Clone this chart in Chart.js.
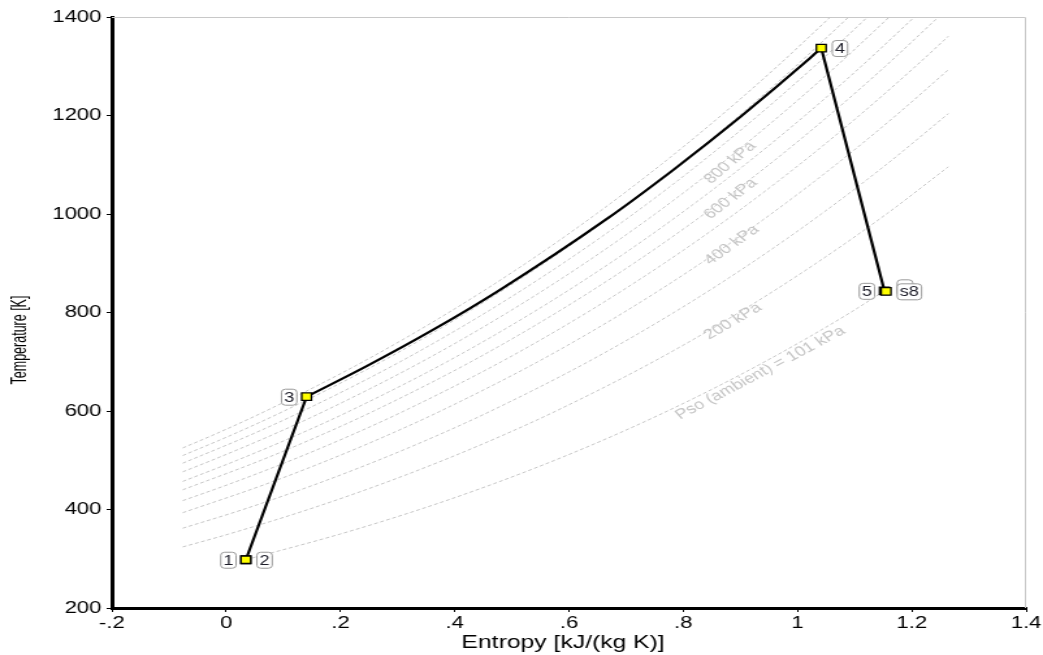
<!DOCTYPE html>
<html><head><meta charset="utf-8">
<script src="https://cdn.jsdelivr.net/npm/chart.js@4.4.1/dist/chart.umd.min.js"></script>
<style>
html,body{margin:0;padding:0;background:#fff;overflow:hidden}
#wrap{width:802px;height:655px;transform:scaleX(1.3005);transform-origin:0 0}
</style></head><body>
<div id="wrap"><canvas id="c" width="802" height="655"></canvas></div>
<script>
// ---- axis ticks ----
const xTicks = [-0.2, 0, 0.2, 0.4, 0.6, 0.8, 1, 1.2, 1.4];
const xTickLabels = ['-.2', '0', '.2', '.4', '.6', '.8', '1', '1.2', '1.4'];
const yTicks = [200, 400, 600, 800, 1000, 1200, 1400];
const yTickLabels = ['200', '400', '600', '800', '1000', '1200', '1400'];
const xTitle = 'Entropy [kJ/(kg K)]';
const yTitle = 'Temperature [K]';

// ---- cycle states ----
const stateNames = ['1', '2', '3', '4', '5', 's8'];
const stateSide  = ['left', 'right', 'left', 'right', 'left', 'right'];
const stateS = [0.0345, 0.0345, 0.1408, 1.0415, 1.152, 1.155];
const stateT = [298, 298, 629, 1337, 844, 843];

// ---- heat addition 3 -> 4 (constant pressure curve) ----
const heatS = [0.1408, 0.2459, 0.3625, 0.4793, 0.6662, 0.7829, 0.8997, 1.0165, 1.0415];
const heatT = [629, 691, 765, 846, 990, 1090, 1197, 1311, 1337];

// ---- isobars ----
const p200S = [-0.076, 0.0041, 0.1436, 0.2679, 0.3802, 0.4829, 0.5774, 0.7475, 0.8976, 1.0326, 1.1556, 1.264];
const p200T = [324, 350, 400, 450, 500, 550, 600, 700, 800, 900, 1000, 1096];
const p300S = [-0.076, 0.0296, 0.1539, 0.2662, 0.3689, 0.4634, 0.6335, 0.7836, 0.9186, 1.0416, 1.1549, 1.264];
const p300T = [362, 400, 450, 500, 550, 600, 700, 800, 900, 1000, 1100, 1204];
const p400S = [-0.076, 0.0659, 0.1782, 0.2809, 0.3754, 0.5455, 0.6956, 0.8306, 0.9536, 1.0669, 1.1721, 1.264];
const p400T = [393.5, 450, 500, 550, 600, 700, 800, 900, 1000, 1100, 1200, 1293];
const p500S = [-0.076, 0.0019, 0.1142, 0.2169, 0.3114, 0.4815, 0.6316, 0.7666, 0.8896, 1.0029, 1.1081, 1.2067, 1.264];
const p500T = [418, 450, 500, 550, 600, 700, 800, 900, 1000, 1100, 1200, 1300, 1361];
const p600S = [-0.076, 0.0612, 0.1639, 0.2584, 0.4285, 0.5786, 0.7136, 0.8366, 0.9499, 1.0551, 1.1537, 1.2465];
const p600T = [440, 500, 550, 600, 700, 800, 900, 1000, 1100, 1200, 1300, 1400];
const p700S = [-0.076, 0.0192, 0.1219, 0.2164, 0.3865, 0.5366, 0.6716, 0.7946, 0.9079, 1.0131, 1.1117, 1.2045];
const p700T = [457, 500, 550, 600, 700, 800, 900, 1000, 1100, 1200, 1300, 1400];
const p800S = [-0.076, -0.0248, 0.0779, 0.1724, 0.3425, 0.4926, 0.6276, 0.7506, 0.8639, 0.9691, 1.0677, 1.1605];
const p800T = [476.5, 500, 550, 600, 700, 800, 900, 1000, 1100, 1200, 1300, 1400];
const p900S = [-0.076, 0.0399, 0.1344, 0.3045, 0.4546, 0.5896, 0.7126, 0.8259, 0.9311, 1.0297, 1.1225];
const p900T = [494, 550, 600, 700, 800, 900, 1000, 1100, 1200, 1300, 1400];
const p1000S = [-0.076, 0.0069, 0.1014, 0.2715, 0.4216, 0.5566, 0.6796, 0.7929, 0.8981, 0.9967, 1.0895];
const p1000T = [509.5, 550, 600, 700, 800, 900, 1000, 1100, 1200, 1300, 1400];
const p1100S = [-0.076, -0.0251, 0.0694, 0.2395, 0.3895, 0.5246, 0.6476, 0.7609, 0.8661, 0.9647, 1.0575];
const p1100T = [525, 550, 600, 700, 800, 900, 1000, 1100, 1200, 1300, 1400];
const ambS = [0.0345, 0.1991, 0.3386, 0.4629, 0.5752, 0.6779, 0.7724, 0.8604, 0.9425, 1.0198, 1.0926, 1.152];
const ambT = [298, 350, 400, 450, 500, 550, 600, 650, 700, 750, 800, 844];

// ---- isobar labels ----
const isoLabelText = ['800 kPa', '600 kPa', '400 kPa', '200 kPa', 'Pso (ambient) = 101 kPa'];
const isoLabelLine = ['p800', 'p600', 'p400', 'p200', 'amb'];
const isoLabelS = [0.882, 0.883, 0.885, 0.887, 0.935];
const isoLabelT = [1104, 1031, 937, 782, 677];

const zip = (S, T) => S.map((s, i) => ({x: s, y: T[i]}));
const isoStyle = {borderColor: '#c6c6c6', borderWidth: 1, borderDash: [3, 2], pointRadius: 0,
  cubicInterpolationMode: 'monotone', fill: false, order: 10};
const isobars = [
  ['p200', p200S, p200T], ['p300', p300S, p300T], ['p400', p400S, p400T], ['p500', p500S, p500T],
  ['p600', p600S, p600T], ['p700', p700S, p700T], ['p800', p800S, p800T], ['p900', p900S, p900T],
  ['p1000', p1000S, p1000T], ['p1100', p1100S, p1100T], ['amb', ambS, ambT]
].map(([id, S, T]) => Object.assign({label: id, data: zip(S, T)}, isoStyle));

const procStyle = {borderColor: '#000', borderWidth: 2.2, pointRadius: 0, fill: false, order: 1};
const compData = zip(stateS.slice(0, 3), stateT.slice(0, 3));
const expData = zip(stateS.slice(3), stateT.slice(3));

const datasets = isobars.concat([
  Object.assign({label: 'comp', data: compData, tension: 0}, procStyle),
  Object.assign({label: 'heat', data: zip(heatS, heatT), cubicInterpolationMode: 'monotone'}, procStyle),
  Object.assign({label: 'exp', data: expData, tension: 0}, procStyle),
  {label: 'states', data: zip(stateS, stateT), showLine: false, pointStyle: 'rect', pointRadius: 5.3,
   pointBackgroundColor: '#ffff00', pointBorderColor: '#000', pointBorderWidth: 1.3, order: 0}
]);

function roundRect(ctx, x, y, w, h, r) {
  ctx.beginPath();
  ctx.moveTo(x + r, y);
  ctx.lineTo(x + w - r, y); ctx.quadraticCurveTo(x + w, y, x + w, y + r);
  ctx.lineTo(x + w, y + h - r); ctx.quadraticCurveTo(x + w, y + h, x + w - r, y + h);
  ctx.lineTo(x + r, y + h); ctx.quadraticCurveTo(x, y + h, x, y + h - r);
  ctx.lineTo(x, y + r); ctx.quadraticCurveTo(x, y, x + r, y);
  ctx.closePath();
}

const annot = {
  id: 'annot',
  beforeDatasetsDraw(chart) {
    const {ctx, chartArea: a} = chart;
    ctx.save();
    ctx.strokeStyle = '#c8c8c8'; ctx.lineWidth = 1;
    ctx.beginPath();
    ctx.moveTo(a.left, a.top + 0.5); ctx.lineTo(a.right - 0.5, a.top + 0.5); ctx.lineTo(a.right - 0.5, a.bottom);
    ctx.stroke();
    ctx.restore();
  },
  afterDatasetsDraw(chart) {
    const ctx = chart.ctx, xs = chart.scales.x, ys = chart.scales.y;
    ctx.save();
    ctx.font = '14px "Liberation Sans", Arial, sans-serif';
    ctx.fillStyle = '#c4c4c4'; ctx.textAlign = 'center'; ctx.textBaseline = 'middle';
    isoLabelText.forEach((txt, i) => {
      const ds = chart.data.datasets.find(d => d.label === isoLabelLine[i]).data;
      const s = isoLabelS[i];
      let k = 0; while (k < ds.length - 2 && ds[k + 1].x < s) k++;
      const ang = Math.atan2(ys.getPixelForValue(ds[k + 1].y) - ys.getPixelForValue(ds[k].y),
                             xs.getPixelForValue(ds[k + 1].x) - xs.getPixelForValue(ds[k].x));
      ctx.save();
      ctx.translate(xs.getPixelForValue(s), ys.getPixelForValue(isoLabelT[i]));
      ctx.rotate(ang);
      ctx.fillText(txt, 0, 0);
      ctx.restore();
    });
    ctx.restore();
  },
  afterDraw(chart) {
    const ctx = chart.ctx;
    const meta = chart.getDatasetMeta(chart.data.datasets.length - 1);
    ctx.save();
    ctx.font = '14px "Liberation Sans", Arial, sans-serif';
    ctx.textAlign = 'center'; ctx.textBaseline = 'middle';
    ctx.lineWidth = 1;
    stateNames.forEach((name, i) => {
      const p = meta.data[i];
      const w = ctx.measureText(name).width + 4, h = 16;
      const bx = stateSide[i] === 'left' ? p.x - 8 - w : p.x + 8;
      const by = p.y - h / 2;
      if (name === 's8') {
        roundRect(ctx, bx + 0.5, by - 4 + 0.5, 12, h, 3);
        ctx.fillStyle = '#fff'; ctx.fill(); ctx.strokeStyle = '#9a9a9a'; ctx.stroke();
      }
      roundRect(ctx, bx + 0.5, by + 0.5, w, h, 3);
      ctx.fillStyle = '#fff'; ctx.fill(); ctx.strokeStyle = '#9a9a9a'; ctx.stroke();
      ctx.fillStyle = '#1e1e2a';
      ctx.fillText(name, bx + 0.5 + w / 2, p.y + 1);
    });
    ctx.fillStyle = '#000';
    ctx.font = '19px "Liberation Sans", Arial, sans-serif';
    ctx.fillText(xTitle, 433, 643);
    ctx.save();
    ctx.translate(15.5, 340);
    ctx.rotate(-Math.PI / 2);
    ctx.scale(0.78, 1);
    ctx.font = '16px "Liberation Sans", Arial, sans-serif';
    ctx.fillText(yTitle, 0, 0);
    ctx.restore();
    ctx.restore();
  }
};

new Chart(document.getElementById('c'), {
  type: 'line',
  data: {datasets},
  plugins: [annot],
  options: {
    responsive: false, animation: false, devicePixelRatio: 1,
    layout: {padding: {top: 17, right: 13, bottom: 0, left: 0}},
    plugins: {legend: {display: false}, tooltip: {enabled: false}},
    scales: {
      x: {
        type: 'linear', min: -0.2, max: 1.4,
        afterBuildTicks: s => { s.ticks = xTicks.map(v => ({value: v})); },
        afterFit: s => { s.height = 47; },
        ticks: {callback: (v, i) => xTickLabels[i], color: '#000', padding: 1, maxRotation: 0,
                font: {family: '"Liberation Sans", Arial, sans-serif', size: 17}},
        grid: {display: true, drawOnChartArea: false, drawTicks: true, tickLength: 4, tickColor: '#000', tickWidth: 1},
        border: {display: true, color: '#000', width: 3}
      },
      y: {
        type: 'linear', min: 200, max: 1400,
        afterBuildTicks: s => { s.ticks = yTicks.map(v => ({value: v})); },
        afterFit: s => { s.width = 86; },
        ticks: {callback: (v, i) => yTickLabels[i], color: '#000', padding: 4,
                font: {family: '"Liberation Sans", Arial, sans-serif', size: 17}},
        grid: {display: true, drawOnChartArea: false, drawTicks: true, tickLength: 4, tickColor: '#000', tickWidth: 1},
        border: {display: true, color: '#000', width: 3}
      }
    }
  }
});
</script>
</body></html>
